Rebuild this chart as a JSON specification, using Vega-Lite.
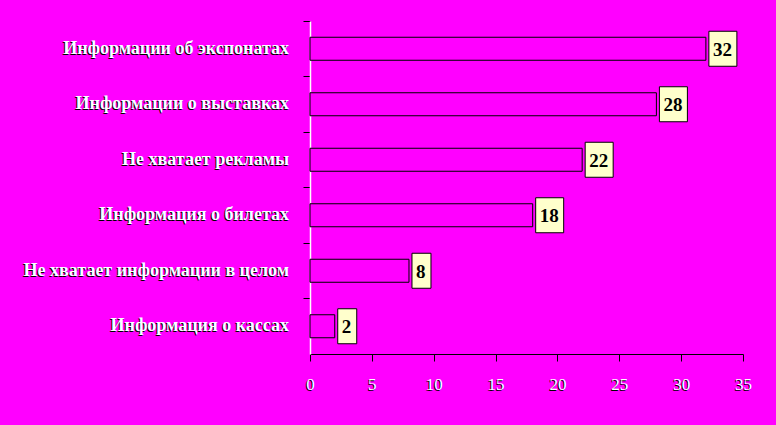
{
  "$schema": "https://vega.github.io/schema/vega-lite/v6.json",
  "autosize": "none",
  "width": 433,
  "height": 333,
  "padding": {"left": 310, "top": 21, "right": 33, "bottom": 71},
  "background": "#ff00ff",
  "config": {"view": {"stroke": null}},
  "data": {"values": [
    {"cat": "Информации об экспонатах", "v": 32},
    {"cat": "Информации о выставках", "v": 28},
    {"cat": "Не хватает рекламы", "v": 22},
    {"cat": "Информация о билетах", "v": 18},
    {"cat": "Не хватает информации в целом", "v": 8},
    {"cat": "Информация о кассах", "v": 2}
  ]},
  "encoding": {
    "y": {"field": "cat", "type": "nominal", "sort": null,
      "scale": {"paddingInner": 0, "paddingOuter": 0},
      "axis": {"title": null, "labels": false, "domainColor": "white", "domainWidth": 1.5, "tickColor": "black", "tickSize": 7, "bandPosition": 0}}
  },
  "layer": [
    {
      "mark": {"type": "bar", "fill": "#ff00ff", "stroke": "black", "strokeWidth": 1, "size": 23},
      "encoding": {
        "x": {"field": "v", "type": "quantitative", "scale": {"domain": [0, 35], "nice": false},
          "axis": {"title": null, "values": [0,5,10,15,20,25,30,35], "grid": false, "orient": "bottom",
            "domainColor": "black", "tickColor": "black", "tickSize": 7,
            "labelColor": "black", "labelFont": "Liberation Serif", "labelFontSize": 17,
            "labelPadding": 16, "labelBaseline": "top", "labelOffset": -1, "labelFlush": false}}
      }
    },
    {
      "mark": {"type": "bar", "fill": "#ffffcc", "stroke": "black", "strokeWidth": 1, "size": 35, "xOffset": 3, "x2Offset": 31},
      "transform": [{"filter": "datum.v >= 10"}],
      "encoding": {"x": {"field": "v", "type": "quantitative", "axis": null}, "x2": {"field": "v"}}
    },
    {
      "mark": {"type": "bar", "fill": "#ffffcc", "stroke": "black", "strokeWidth": 1, "size": 35, "xOffset": 3, "x2Offset": 22},
      "transform": [{"filter": "datum.v < 10"}],
      "encoding": {"x": {"field": "v", "type": "quantitative", "axis": null}, "x2": {"field": "v"}}
    },
    {
      "mark": {"type": "text", "align": "left", "baseline": "middle", "dx": 7, "dy": 1, "font": "Liberation Serif", "fontWeight": "bold", "fontSize": 19, "color": "black"},
      "encoding": {"x": {"field": "v", "type": "quantitative", "axis": null}, "text": {"field": "v"}}
    },
    {
      "mark": {"type": "text", "align": "right", "baseline": "middle", "dx": -22, "dy": 1, "font": "Liberation Serif", "fontWeight": "bold", "fontSize": 18, "color": "black"},
      "encoding": {"x": {"datum": 0, "type": "quantitative", "axis": null}, "text": {"field": "cat"}}
    },
    {
      "mark": {"type": "text", "align": "right", "baseline": "middle", "dx": -21, "dy": 0, "font": "Liberation Serif", "fontWeight": "bold", "fontSize": 18, "color": "white"},
      "encoding": {"x": {"datum": 0, "type": "quantitative", "axis": null}, "text": {"field": "cat"}}
    },
    {
      "mark": {"type": "rule", "strokeWidth": 0},
      "encoding": {"x": {"datum": 0, "type": "quantitative",
          "axis": {"title": null, "values": [0,5,10,15,20,25,30,35], "grid": false, "orient": "bottom",
            "domain": false, "ticks": false,
            "labelColor": "white", "labelFont": "Liberation Serif", "labelFontSize": 17,
            "labelPadding": 22, "labelBaseline": "top", "labelFlush": false}}}
    }
  ],
  "resolve": {"axis": {"x": "independent"}}
}
